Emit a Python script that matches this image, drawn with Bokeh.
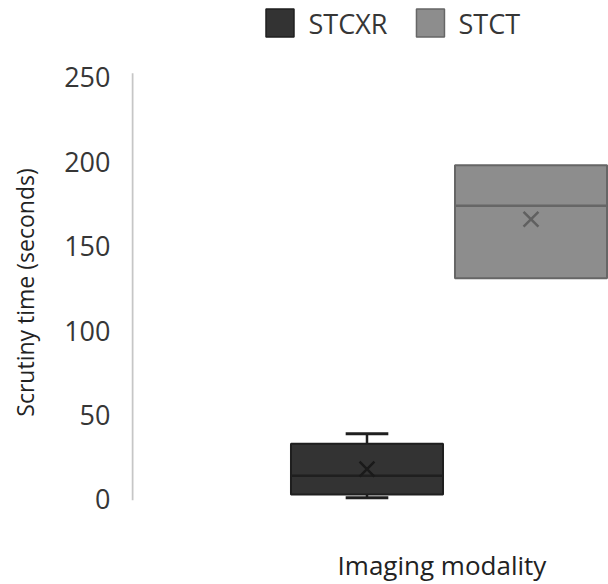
from bokeh.plotting import figure
from bokeh.models import Range1d, FixedTicker
from bokeh.core.properties import value
from bokeh.embed import file_html
from bokeh.resources import INLINE

# ---- data ----
series = ["STCXR", "STCT"]
q1 = [3, 131]
median = [14, 174]
q3 = [33, 198]
whisker_low = [1, 131]
whisker_high = [39, 198]
mean = [18, 166]
y_ticks = [0, 50, 100, 150, 200, 250]

fills = ["#333333", "#8d8d8d"]
edges = ["#1f1f1f", "#666666"]
mean_colors = ["#1a1a1a", "#606060"]

FONT = "Open Sans"
TXT = "#363636"

W, H = 608, 584
p = figure(width=W, height=H, output_backend="svg", toolbar_location=None,
           x_range=Range1d(-0.436, 2.4726), y_range=Range1d(-50.36, 295.6),
           min_border_left=131, min_border_right=0, min_border_top=0, min_border_bottom=0)
p.outline_line_color = None
p.xgrid.visible = False
p.ygrid.visible = False
p.xaxis.visible = False

ya = p.yaxis[0]
ya.ticker = FixedTicker(ticks=y_ticks)
ya.axis_line_color = None
ya.major_tick_line_color = None
ya.minor_tick_line_color = None
ya.major_label_standoff = 15
ya.major_label_text_font = FONT
ya.major_label_text_font_size = "27px"
ya.major_label_text_color = TXT
ya.axis_label = "Scrutiny time (seconds)"
ya.axis_label_text_font = FONT
ya.axis_label_text_font_size = "23px"
ya.axis_label_text_font_style = "normal"
ya.axis_label_text_color = "#222222"
ya.axis_label_standoff = 20

# custom vertical axis line
p.segment(x0=[-0.430], y0=[-0.5], x1=[-0.430], y1=[252.5], line_color="#c6c6c6", line_width=2)

xs = [1, 2]
bw = 0.927
cap = 0.26

# whiskers (only where they extend beyond the box)
for i in range(len(series)):
    if whisker_high[i] > q3[i]:
        p.segment(x0=[xs[i]], y0=[q3[i]], x1=[xs[i]], y1=[whisker_high[i]], line_color=edges[i], line_width=2.5)
        p.segment(x0=[xs[i] - cap / 2], y0=[whisker_high[i]], x1=[xs[i] + cap / 2], y1=[whisker_high[i]],
                  line_color=edges[i], line_width=3)
    if whisker_low[i] < q1[i]:
        p.segment(x0=[xs[i]], y0=[q1[i]], x1=[xs[i]], y1=[whisker_low[i]], line_color=edges[i], line_width=2.5)
        p.segment(x0=[xs[i] - cap / 2], y0=[whisker_low[i]], x1=[xs[i] + cap / 2], y1=[whisker_low[i]],
                  line_color=edges[i], line_width=3)

p.vbar(x=xs, width=bw, bottom=q1, top=q3, fill_color=fills, line_color=edges, line_width=2)
p.segment(x0=[x - bw / 2 for x in xs], y0=median, x1=[x + bw / 2 for x in xs], y1=median,
          line_color=edges, line_width=2.5)
p.scatter(x=xs, y=mean, marker="x", size=21, line_color=mean_colors, line_width=2.5)

# legend drawn manually (top)
leg_sq_x = [0.4695, 1.387]
leg_tx_x = [0.6433, 1.558]
p.rect(x=leg_sq_x, y=[282.3, 282.3], width=28, height=28, width_units="screen", height_units="screen",
       fill_color=fills, line_color=edges, line_width=1.5)
p.text(x=leg_tx_x, y=[282.0, 282.0], text=series, text_font=value(FONT), text_font_size="27px",
       text_color=TXT, text_baseline="alphabetic", text_align="left")

# x axis title
p.text(x=[1.457], y=[-39.0], text=["Imaging modality"], text_font=value(FONT), text_font_size="26px",
       text_color="#222222", text_baseline="alphabetic", text_align="center")

open("out.html", "w").write(file_html(p, INLINE))
